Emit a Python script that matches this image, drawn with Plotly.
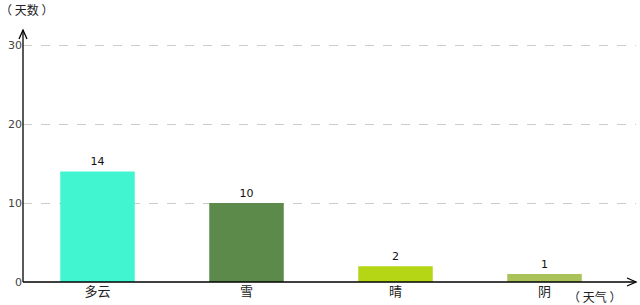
import plotly.graph_objects as go

categories = ["多云", "雪", "晴", "阴"]
days = [14, 10, 2, 1]
bar_colors = ["#40F5D0", "#5B8A4B", "#B5D614", "#A9C25A"]
y_ticks = [0, 10, 20, 30]

W, H = 640, 305
L, R, T, B = 23, 4, 43, 23
pw, ph = W - L - R, H - T - B
px_per_unit = 7.9


def xp(px):
    return (px - L) / pw


def yp(py):
    return (H - B - py) / ph


font_family = "DejaVu Sans, Noto Sans CJK SC, sans-serif"
cjk_font = "Noto Sans CJK SC, DejaVu Sans, sans-serif"

fig = go.Figure(
    go.Bar(
        x=list(range(len(categories))),
        y=days,
        marker=dict(color=bar_colors, line=dict(width=0)),
        text=[str(v) for v in days],
        textposition="outside",
        textfont=dict(size=11, color="#111", family=font_family),
        cliponaxis=False,
        width=0.5,
    )
)

axis_color = "#000"
shapes = [
    dict(type="line", xref="paper", yref="paper", x0=0, x1=0, y0=0, y1=yp(30),
         line=dict(color=axis_color, width=1.3)),
    dict(type="path", xref="paper", yref="paper",
         path=f"M {xp(19)} {yp(39)} L {xp(23)} {yp(30)} L {xp(27)} {yp(39)}",
         line=dict(color=axis_color, width=1.3)),
    dict(type="line", xref="paper", yref="paper", x0=0, x1=xp(636), y0=0, y1=0,
         line=dict(color=axis_color, width=1.3)),
    dict(type="path", xref="paper", yref="paper",
         path=f"M {xp(627)} {yp(278)} L {xp(636)} {yp(282)} L {xp(627)} {yp(286)}",
         line=dict(color=axis_color, width=1.3)),
]

annotations = [
    dict(text="（ 天数 ）", xref="paper", yref="paper",
         x=xp(-2), y=yp(10), xanchor="left", yanchor="middle",
         showarrow=False, font=dict(size=12, color="#222", family=cjk_font)),
    dict(text="（ 天气 ）", xref="paper", yref="paper",
         x=xp(566), y=yp(296), xanchor="left", yanchor="middle",
         showarrow=False, font=dict(size=12, color="#222", family=cjk_font)),
]

fig.update_layout(
    width=W, height=H,
    margin=dict(l=L, r=R, t=T, b=B),
    paper_bgcolor="white", plot_bgcolor="white",
    showlegend=False,
    bargap=0.5,
    shapes=shapes,
    annotations=annotations,
    font=dict(family=font_family),
    xaxis=dict(
        range=[-0.5, -0.5 + pw / 149.0],
        tickmode="array",
        tickvals=list(range(len(categories))),
        ticktext=categories,
        showgrid=False, zeroline=False, showline=False, ticks="",
        tickfont=dict(size=13, color="#222", family=cjk_font),
        fixedrange=True,
    ),
    yaxis=dict(
        range=[0, ph / px_per_unit],
        tickmode="array",
        tickvals=y_ticks,
        showgrid=True, gridcolor="#CCCCCC", griddash="dash", gridwidth=1,
        zeroline=False, showline=False, ticks="",
        tickfont=dict(size=11, color="#444"),
        fixedrange=True,
    ),
)

fig.write_html("out.html")
